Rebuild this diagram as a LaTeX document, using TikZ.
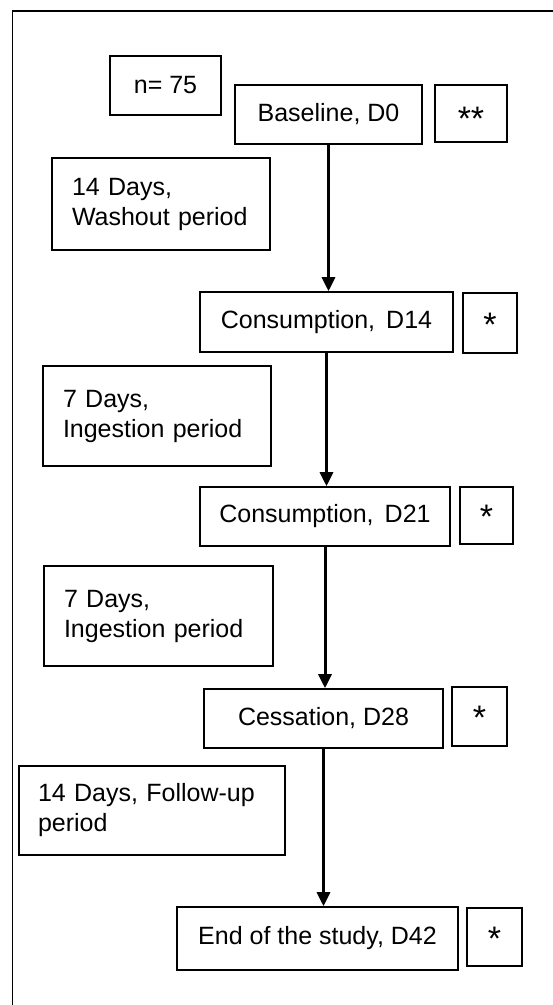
\documentclass[tikz,border=0pt]{standalone}
\usepackage{fontspec}
\setmainfont{Liberation Sans}
\usetikzlibrary{arrows.meta}

\newcommand{\bigstar}[2][-13pt]{{\fontsize{34}{40}\selectfont\raisebox{#1}[0pt][0pt]{#2}}}

\begin{document}
\begin{tikzpicture}[x = 1pt, y = -1pt, > = {Triangle[length = 14pt, width = 13pt]},
	box/.style = {draw, line width = 1.6pt, inner sep = 0pt, align = center, font = \fontsize{25}{30}\selectfont},
	period/.style = {box, align = left, inner xsep = 20pt},
	flow/.style = {->, line width = 3pt}]

	\useasboundingbox (0, 0) rectangle (553, 1005);

	% Frame
	
	\draw [line width = 1.6pt] (12.5, 1005) -- (12.5, 11) -- (553, 11);
	
	% Sample size
	
	\node [box, minimum width = 111pt, minimum height = 59pt] (n) at (165.5, 85.5) {n= 75};
	
	% Visits
	
	\node [box, minimum width = 187pt, minimum height = 59pt] (base) at (328.5, 114.5) {Baseline, D0};
	\node [box, minimum width = 253pt, minimum height = 60pt] (d14) at (326.5, 322) {Consumption,\, D14};
	\node [box, minimum width = 250pt, minimum height = 59pt] (d21) at (325, 516.5) {Consumption,\, D21};
	\node [box, minimum width = 239pt, minimum height = 59pt] (d28) at (323.5, 718.5) {Cessation, D28};
	\node [box, minimum width = 281pt, minimum height = 63pt] (d42) at (317.5, 938.5) {End of the study, D42};
	
	% Marks
	
	\node [box, minimum width = 72pt, minimum height = 57pt] (base star) at (471, 113.5) {\bigstar[-17pt]{**}};
	\node [box, minimum width = 54pt, minimum height = 60pt] (d14 star) at (490, 323) {\bigstar{*}};
	\node [box, minimum width = 53pt, minimum height = 57pt] (d21 star) at (486.5, 515.5) {\bigstar{*}};
	\node [box, minimum width = 55pt, minimum height = 59pt] (d28 star) at (479.5, 716.5) {\bigstar{*}};
	\node [box, minimum width = 55pt, minimum height = 58pt] (d42 star) at (494.5, 937) {\bigstar{*}};
	
	% Periods
	
	\node [period, text width = 178pt, minimum height = 92pt] (washout) at (161, 204) {14 Days,\\Washout period};
	\node [period, text width = 188pt, minimum height = 100pt] (ingest a) at (157, 416) {7 Days,\\Ingestion period};
	\node [period, text width = 189pt, minimum height = 100pt] (ingest b) at (158.5, 616) {7 Days,\\Ingestion period};
	\node [period, inner xsep = 19pt, text width = 228pt, minimum height = 89pt] (follow) at (152, 810.5) {14 Days, Follow-up\\period};
	
	% Arrows
	
	\draw [flow] (base.south) -- (base.south |- d14.north);
	\draw [flow] (d14.south) -- (d14.south |- d21.north);
	\draw [flow] (d21.south) -- (d21.south |- d28.north);
	\draw [flow] (d28.south) -- (d28.south |- d42.north);

\end{tikzpicture}
\end{document}
